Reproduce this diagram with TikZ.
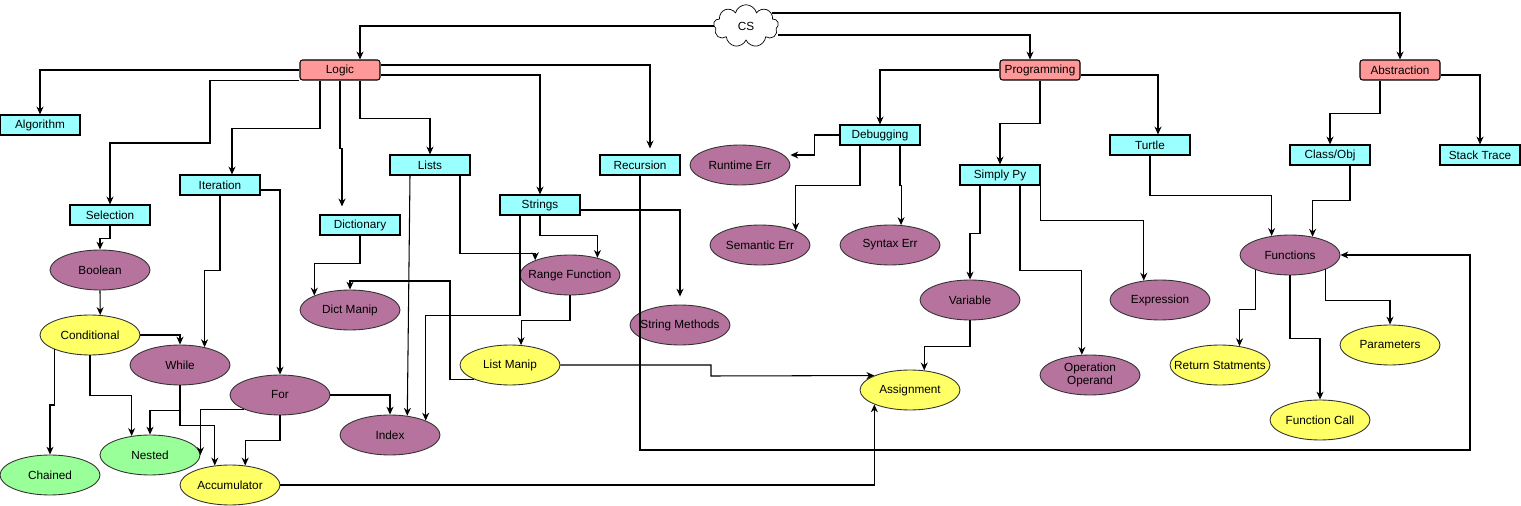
\documentclass[tikz,border=0pt]{standalone}
\usepackage{fontspec}
\setmainfont{Liberation Sans}
\usepackage{tikz}
\usetikzlibrary{shapes.geometric,shapes.symbols,arrows.meta,calc}

\definecolor{boxcyan}{HTML}{99FFFF}
\definecolor{headred}{HTML}{FF9999}
\definecolor{ovalpurple}{HTML}{B5739D}
\definecolor{ovalyellow}{HTML}{FFFF66}
\definecolor{ovalgreen}{HTML}{99FF99}

\begin{document}
\begin{tikzpicture}[x=0.02cm, y=-0.02cm, font=\fontsize{6.7pt}{7.6pt}\selectfont,
    box/.style={draw, rectangle, fill=boxcyan, minimum width=1.6cm, minimum height=0.4cm, inner sep=0pt, line width=0.6pt},
    headbox/.style={box, fill=headred, rounded corners=1.5pt},
    oval/.style={draw=black!80, ellipse, minimum width=2cm, minimum height=0.8cm, inner xsep=-0.6cm, inner ysep=0pt, line width=0.5pt, align=center},
    purp/.style={oval, fill=ovalpurple},
    yel/.style={oval, fill=ovalyellow},
    grn/.style={oval, fill=ovalgreen},
    arr/.style={line width=0.6pt, -{Stealth[length=4.5pt,width=4pt]}}]

        \useasboundingbox (0,0) rectangle (1521,506);

        \node [draw, cloud, cloud puffs=9, aspect=1.5, minimum width=1.3cm, minimum height=0.85cm, inner sep=0pt, fill=white] (CS) at (746,26) {CS};

        \node [headbox] (Logic) at (340,70)   {Logic};        %
        \node [headbox] (Prog)  at (1040,70)  {Programming};  %
        \node [headbox] (Abstr) at (1400,70)  {Abstraction};  %

        \node [box] (Algo)   at (40,125)   {Algorithm};       %
        \node [box] (Sel)    at (110,215)  {Selection};       %
        \node [box] (Iter)   at (220,185)  {Iteration};       %
        \node [box] (Dict)   at (360,225)  {Dictionary};      %
        \node [box] (Lists)  at (430,165)  {Lists};           %
        \node [box] (Str)    at (540,205)  {Strings};         %
        \node [box] (Recur)  at (640,165)  {Recursion};       %
        \node [box] (Debug)  at (880,135)  {Debugging};       %
        \node [box] (Simply) at (1000,175) {Simply Py};       %
        \node [box] (Turtle) at (1150,145) {Turtle};          %
        \node [box] (Class)  at (1330,155) {Class/Obj};       %
        \node [box] (Stack)  at (1480,155) {Stack Trace};     %

        \node [purp] (Boolean)   at (100,270)  {Boolean};     %Logic side
        \node [yel]  (Cond)      at (90,335)   {Conditional}; %
        \node [purp] (While)     at (180,365)  {While};       %
        \node [purp] (For)       at (280,395)  {For};         %
        \node [grn]  (Nested)    at (150,455)  {Nested};      %
        \node [grn]  (Chained)   at (50,475)   {Chained};     %
        \node [yel]  (Accum)     at (230,485)  {Accumulator}; %
        \node [purp] (Index)     at (390,435)  {Index};       %
        \node [purp] (DictManip) at (350,310)  {Dict Manip};  %
        \node [purp] (Range)     at (570,275)  {Range Function};
        \node [yel]  (ListManip) at (510,365)  {List Manip};  %
        \node [purp] (StrMeth)   at (680,325)  {String Methods};
        \node [purp] (Runtime)   at (740,165)  {Runtime Err}; %Programming side
        \node [purp] (Semantic)  at (760,245)  {Semantic Err};%
        \node [purp] (Syntax)    at (890,245)  {Syntax Err};  %
        \node [purp] (Variable)  at (970,300)  {Variable};    %
        \node [purp] (Expr)      at (1160,300) {Expression};  %
        \node [purp] (OpOp)      at (1090,375) {Operation\\Operand};
        \node [yel]  (Assign)    at (910,390)  {Assignment};  %
        \node [purp] (Func)      at (1290,255) {Functions};   %Abstraction side
        \node [yel]  (Return)    at (1220,365) {Return Statments};
        \node [yel]  (Params)    at (1390,345) {Parameters};  %
        \node [yel]  (FCall)     at (1320,420) {Function Call};

        \draw [arr] (CS.west) -| ($(Logic.north)+(20,0)$);                  %
        \draw [arr] ($(CS.east)+(0,9)$) -| ($(Prog.north)+(-10,0)$);         %
        \draw [arr] ($(CS.east)+(-6,-13)$) -| (Abstr.north);                 %

        \draw [arr] (Logic.west) -| (Algo.north);                            %
        \draw [arr] (Logic.south west) -| (210,143) -| (Sel.north);          %
        \draw [arr] ($(Logic.south)+(-20,0)$) -- ++(0,48) -| ($(Iter.north)+(12,0)$);
        \draw [arr, shorten >=0.16cm] (Logic.south) -- ++(0,68) -- ++(2,0) -- ($(Dict.north)+(-18,0)$);
        \draw [arr] ($(Logic.south)+(20,0)$) -- ++(0,38) -| (Lists.north);  %
        \draw [arr] ($(Logic.east)+(0,5)$) -| (Str.north);                   %
        \draw [arr, shorten >=0.12cm] ($(Logic.east)+(0,-5)$) -| ($(Recur.north)+(10,0)$);

        \draw [arr] (Sel.south) -- ++(0,13) -| (Boolean.north);              %
        \draw [arr] (Boolean.south) -- (Cond.63);                            %
        \draw [arr] (Cond.east) -| (While.north);                            %
        \draw [arr] (Cond.202) |- (50,405) -- (Chained.north);               %
        \draw [arr] (Cond.south) -- ++(0,40) -| (Nested.134);                %
        \draw [arr] (Iter.south) -- ++(0,75) -| (While.36);                  %
        \draw [arr] ($(Iter.east)+(0,5)$) -| (For.north);                    %
        \draw [arr] (While.south) -- ++(0,25) -| (Nested.north);             %
        \draw [arr] (While.south) -- ++(0,40) -| (Accum.128);                %
        \draw [arr] (For.south west) -| (Nested.east);                       %
        \draw [arr] (For.south) -- ++(0,25) -| (Accum.52);                   %
        \draw [arr] (For.east) -| (Index.north);                             %

        \draw [arr] ($(Lists.south)+(-20,0)$) -- (Index.48);                 %
        \draw [arr] ($(Lists.south)+(30,0)$) -- ++(0,78) -| (Range.157);     %
        \draw [arr] (Str.south) -- ++(0,20) -| (Range.32);                   %
        \draw [arr] ($(Str.south)+(-20,0)$) -- ++(0,100) -| (Index.22);      %
        \draw [arr, shorten >=0.16cm] ($(Str.east)+(0,5)$) -| (StrMeth.north);
        \draw [arr] (Range.south) -- ++(0,25) -| (ListManip.61);             %
        \draw [arr] (ListManip.south west) -| (450,281) -| (DictManip.north);%
        \draw [arr] (Dict.south) -- ++(0,28) -| (DictManip.158);             %
        \draw [arr] (ListManip.east) -| (711,376) -- (Assign.north west);    %
        \draw [arr] (Accum.east) -| (Assign.south west);                     %
        \draw [arr] (Recur.south) |- (1470,450) |- (Func.east);              %

        \draw [arr] (Prog.west) -| (Debug.north);                            %
        \draw [arr] (Debug.west) -- ++(-25,0) |- ([yshift=0.2cm]Runtime.east);
        \draw [arr] ($(Debug.south)+(-20,0)$) -- ++(0,40) -| (Semantic.22);  %
        \draw [arr] ($(Debug.south)+(20,0)$) -- ++(0,40) -| (Syntax.61);     %
        \draw [arr] (Prog.south) -- ++(0,43) -| (Simply.north);              %
        \draw [arr] ($(Prog.east)+(0,5)$) -| ($(Turtle.north)+(8,0)$);       %
        \draw [arr] ($(Simply.south)+(-20,0)$) -- ++(0,48) -| (Variable.north);
        \draw [arr] ($(Simply.south)+(20,0)$) -- ++(0,85) -| (OpOp.112);     %
        \draw [arr] (Simply.south east) -- ++(0,35) -| (Expr.130);           %
        \draw [arr] (Variable.south) -- ++(0,26) -| (Assign.54);             %
        \draw [arr] (Turtle.south) -- ++(0,40) -| (Func.134);                %

        \draw [arr] ($(Abstr.south)+(-20,0)$) -- ++(0,33) -| (Class.north);  %
        \draw [arr] ($(Abstr.east)+(0,5)$) -| (Stack.north);                 %
        \draw [arr] ($(Class.south)+(20,0)$) -- ++(0,35) -| (Func.39);       %
        \draw [arr] (Func.203) -- ++(0,40) -| (Return.44);                   %
        \draw [arr] (Func.south) -- ++(0,63) -| (FCall.north);               %
        \draw [arr] (Func.338) -- ++(0,31) -| (Params.north);                %
      \end{tikzpicture}
\end{document}
